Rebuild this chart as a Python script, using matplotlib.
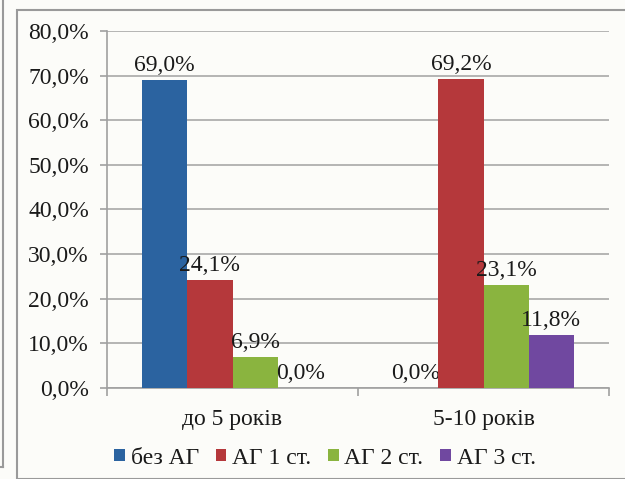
import matplotlib.pyplot as plt
import numpy as np
from matplotlib.patches import Rectangle
from matplotlib.lines import Line2D

plt.rcParams['font.family'] = ['Liberation Serif', 'DejaVu Serif']

# Дані
groups = ['до 5 років', '5-10 років']
series = ['без АГ', 'АГ 1 ст.', 'АГ 2 ст.', 'АГ 3 ст.']
bez_ag = [69.0, 0.0]
ag1 = [24.1, 69.2]
ag2 = [6.9, 23.1]
ag3 = [0.0, 11.8]
colors = ['#2b63a0', '#b5383b', '#8ab43f', '#7048a0']

values = [bez_ag, ag1, ag2, ag3]
txt = '#1a1a1a'

fig = plt.figure(figsize=(6.25, 4.79), dpi=100, facecolor='#fcfcf9')
ax = fig.add_axes([107 / 625, 1 - 388 / 479, 502 / 625, 357 / 479])
ax.set_facecolor('#fcfcf9')

x = np.arange(len(groups))
w = 0.18
for i, (name, vals, c) in enumerate(zip(series, values, colors)):
    bars = ax.bar(x + (i - 1.5) * w, vals, w, color=c, label=name, zorder=3)
    ax.bar_label(bars, labels=[f'{v:.1f}%'.replace('.', ',') for v in vals],
                 padding=3, fontsize=17, color=txt)

ax.set_xlim(-0.5, 1.5)
ax.set_ylim(0, 80)
ax.set_yticks(range(0, 81, 10))
ax.set_yticklabels([f'{v},0%' for v in range(0, 81, 10)], fontsize=17, color=txt)
ax.yaxis.grid(True, color='#a8a8a8', linewidth=1.2, zorder=0)

# підписи категорій по центру, поділки між групами
ax.set_xticks(x)
ax.set_xticklabels(groups, fontsize=17, color=txt)
ax.set_xticks([-0.5, 0.5, 1.5], minor=True)
ax.tick_params(axis='x', which='major', length=0, pad=15)
ax.tick_params(axis='x', which='minor', length=6, color='#a0a0a0', width=1.2)
ax.tick_params(axis='y', length=5, color='#a0a0a0', width=1.2, pad=8)

for s in ['top', 'right']:
    ax.spines[s].set_visible(False)
for s in ['left', 'bottom']:
    ax.spines[s].set_color('#a0a0a0')
    ax.spines[s].set_linewidth(1.2)

leg = fig.legend(loc='center', bbox_to_anchor=(325 / 625, 1 - 458 / 479), ncol=4,
                 frameon=False, fontsize=17, handlelength=0.45, handleheight=0.45,
                 handletextpad=0.25, columnspacing=0.7, labelcolor=txt)

# рамки
fig.add_artist(Rectangle((17 / 625, 0), 1, 1 - 10 / 479, transform=fig.transFigure,
                         fill=False, edgecolor='#9a9a9a', linewidth=1.5))
fig.add_artist(Line2D([3 / 625, 3 / 625], [1 - 467 / 479, 1], transform=fig.transFigure,
                      color='#9a9a9a', linewidth=1.5))
fig.add_artist(Line2D([0, 3 / 625], [1 - 467 / 479, 1 - 467 / 479], transform=fig.transFigure,
                      color='#9a9a9a', linewidth=1.5))

fig.savefig('out.png', dpi=100, facecolor=fig.get_facecolor())
